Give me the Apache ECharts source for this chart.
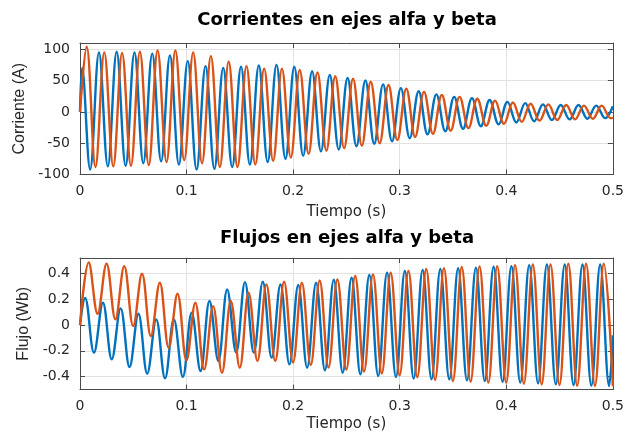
<!DOCTYPE html>
<html><head><meta charset="utf-8">
<script src="https://cdn.jsdelivr.net/npm/echarts@6/dist/echarts.min.js"></script>
<style>html,body{margin:0;padding:0;background:#fff}#c{width:627px;height:433px}</style>
</head><body><div id="c"></div>
<script>
// ---- Data (extrema of each waveform) ----
const title1 = 'Corrientes en ejes alfa y beta';
const title2 = 'Flujos en ejes alfa y beta';
const xName = 'Tiempo (s)';
const yName1 = 'Corriente (A)';
const yName2 = 'Flujo (Wb)';
const xTickValues = [0, 0.1, 0.2, 0.3, 0.4, 0.5];

// Current, alpha (blue)
const iAlphaT = [0, 0.002, 0.0095, 0.0178, 0.0261, 0.0344, 0.0428, 0.0511, 0.0594, 0.0678, 0.0761, 0.0844, 0.0928, 0.1011, 0.1094, 0.1178, 0.1261, 0.1344, 0.1428, 0.1511, 0.1594, 0.1678, 0.1761, 0.1844, 0.1928, 0.2011, 0.2094, 0.2178, 0.2261, 0.2344, 0.2428, 0.2511, 0.2594, 0.2678, 0.2761, 0.2844, 0.2928, 0.3011, 0.3094, 0.3178, 0.3261, 0.3344, 0.3428, 0.3511, 0.3594, 0.3678, 0.3761, 0.3844, 0.3928, 0.4011, 0.4094, 0.4178, 0.4261, 0.4344, 0.4428, 0.4511, 0.4594, 0.4678, 0.4761, 0.4844, 0.4928, 0.5];
const iAlphaV = [0, 70, -92, 95, -87, 96, -86, 95, -82, 93, -79, 90, -84, 81, -92, 73, -91, 70, -88, 72, -84, 74, -80, 75, -75, 72, -70, 65, -63, 59, -60, 54, -55, 50, -51, 44, -47, 38, -42, 33, -36, 28, -31, 24, -27, 22, -23, 19, -20, 16, -17, 14, -15, 12, -13, 11, -12, 11, -11, 10, -10, 9];

// Current, beta (orange)
const iBetaT = [0, 0.0062, 0.0145, 0.0228, 0.0312, 0.0395, 0.0478, 0.0562, 0.0645, 0.0728, 0.0812, 0.0895, 0.0978, 0.1062, 0.1145, 0.1228, 0.1312, 0.1395, 0.1478, 0.1562, 0.1645, 0.1728, 0.1812, 0.1895, 0.1978, 0.2062, 0.2145, 0.2228, 0.2312, 0.2395, 0.2478, 0.2562, 0.2645, 0.2728, 0.2812, 0.2895, 0.2978, 0.3062, 0.3145, 0.3228, 0.3312, 0.3395, 0.3478, 0.3562, 0.3645, 0.3728, 0.3812, 0.3895, 0.3978, 0.4062, 0.4145, 0.4228, 0.4312, 0.4395, 0.4478, 0.4562, 0.4645, 0.4728, 0.4812, 0.4895, 0.4978, 0.5];
const iBetaV = [0, 104, -88, 95, -87, 94, -86, 96, -85, 98, -80, 98, -77, 95, -82, 89, -88, 80, -88, 73, -84, 69, -78, 69, -73, 67, -67, 63, -62, 57, -58, 53, -54, 48, -50, 43, -45, 37, -40, 32, -35, 27, -30, 24, -26, 21, -22, 18, -19, 15, -16, 13, -14, 12, -13, 11, -12, 10, -11, 10, -10, -9];

// Flux, alpha (blue)
const psiAlphaT = [0, 0.0048, 0.0131, 0.0215, 0.0298, 0.0381, 0.0465, 0.0548, 0.0631, 0.0715, 0.0798, 0.0881, 0.0965, 0.1048, 0.1131, 0.1215, 0.1298, 0.1381, 0.1465, 0.1548, 0.1631, 0.1715, 0.1798, 0.1881, 0.1965, 0.2048, 0.2131, 0.2215, 0.2298, 0.2381, 0.2465, 0.2548, 0.2631, 0.2715, 0.2798, 0.2881, 0.2965, 0.3048, 0.3131, 0.3215, 0.3298, 0.3381, 0.3465, 0.3548, 0.3631, 0.3715, 0.3798, 0.3881, 0.3965, 0.4048, 0.4131, 0.4215, 0.4298, 0.4381, 0.4465, 0.4548, 0.4631, 0.4715, 0.4798, 0.4881, 0.4965, 0.5];
const psiAlphaV = [0, 0.21, -0.214, 0.173, -0.266, 0.129, -0.326, 0.088, -0.377, 0.044, -0.413, 0.044, -0.403, 0.096, -0.357, 0.186, -0.279, 0.276, -0.214, 0.333, -0.214, 0.336, -0.253, 0.315, -0.305, 0.31, -0.331, 0.328, -0.351, 0.351, -0.37, 0.367, -0.382, 0.388, -0.395, 0.406, -0.403, 0.419, -0.415, 0.428, -0.42, 0.436, -0.421, 0.44, -0.429, 0.444, -0.434, 0.452, -0.44, 0.457, -0.447, 0.465, -0.452, 0.47, -0.46, 0.47, -0.465, 0.47, -0.47, 0.47, -0.473, -0.08];

// Flux, beta (orange)
const psiBetaT = [0, 0.0082, 0.0165, 0.0249, 0.0332, 0.0415, 0.0499, 0.0582, 0.0665, 0.0749, 0.0832, 0.0915, 0.0999, 0.1082, 0.1165, 0.1249, 0.1332, 0.1415, 0.1499, 0.1582, 0.1665, 0.1749, 0.1832, 0.1915, 0.1999, 0.2082, 0.2165, 0.2249, 0.2332, 0.2415, 0.2499, 0.2582, 0.2665, 0.2749, 0.2832, 0.2915, 0.2999, 0.3082, 0.3165, 0.3249, 0.3332, 0.3415, 0.3499, 0.3582, 0.3665, 0.3749, 0.3832, 0.3915, 0.3999, 0.4082, 0.4165, 0.4249, 0.4332, 0.4415, 0.4499, 0.4582, 0.4665, 0.4749, 0.4832, 0.4915, 0.5];
const psiBetaV = [0, 0.485, 0.088, 0.475, 0.044, 0.457, -0.008, 0.398, -0.085, 0.328, -0.176, 0.243, -0.274, 0.173, -0.344, 0.147, -0.37, 0.186, -0.331, 0.251, -0.279, 0.315, -0.279, 0.336, -0.29, 0.328, -0.31, 0.346, -0.33, 0.354, -0.345, 0.38, -0.36, 0.393, -0.375, 0.406, -0.39, 0.419, -0.405, 0.435, -0.425, 0.44, -0.434, 0.45, -0.439, 0.455, -0.447, 0.457, -0.447, 0.465, -0.455, 0.47, -0.46, 0.47, -0.465, 0.475, -0.47, 0.475, -0.473, 0.475, -0.475];

const yTicks1 = [-100, -50, 0, 50, 100];
const yTicks2 = [-0.4, -0.2, 0, 0.2, 0.4];
const yRange1 = [-100, 110];
const yRange2 = [-0.5, 0.52];

// ---- Chart ----
const BLUE = '#0072BD', ORANGE = '#D95319';
const AX = '#4a4a4a', GRID = '#e2e2e2', TXT = '#262626';
const tickFont = { fontFamily: 'DejaVu Sans', fontSize: 14, color: TXT };

function pairs(t, v) { return t.map((x, i) => [x, v[i]]); }
function onTick(list) {
  return v => list.some(k => Math.abs(k - v) < 1e-9);
}

function xAxes(gi) {
  const base = {
    type: 'value', gridIndex: gi, min: xTickValues[0], max: xTickValues[xTickValues.length - 1], interval: 0.1,
    axisLine: { show: true, onZero: false, lineStyle: { color: AX, width: 1 } },
    axisTick: { show: true, inside: true, length: 5, lineStyle: { color: AX } }
  };
  return [
    Object.assign({}, base, {
      position: 'bottom',
      axisLabel: Object.assign({ margin: 10, formatter: v => String(v) }, tickFont),
      splitLine: { show: true, lineStyle: { color: GRID, width: 1 } },
      name: xName, nameLocation: 'middle', nameGap: gi === 0 ? 30 : 27,
      nameTextStyle: { fontFamily: 'DejaVu Sans', fontSize: 15, color: TXT }
    }),
    Object.assign({}, base, {
      position: 'top', axisLabel: { show: false }, splitLine: { show: false }
    })
  ];
}
function yAxes(gi, range, ticks, name) {
  const ok = onTick(ticks);
  const base = {
    type: 'value', gridIndex: gi, min: range[0], max: range[1],
    axisLine: { show: true, onZero: false, lineStyle: { color: AX, width: 1 } },
    axisTick: { show: true, inside: true, length: 5, lineStyle: { color: AX } }
  };
  return [
    Object.assign({}, base, {
      position: 'left',
      axisLabel: Object.assign({ margin: 10, formatter: v => ok(v) ? String(+v.toFixed(4)) : '' }, tickFont),
      splitLine: { show: true, lineStyle: { color: GRID, width: 1 } },
      name: name, nameLocation: 'middle', nameGap: 47,
      nameTextStyle: { fontFamily: 'Liberation Sans', fontSize: 16, color: TXT }
    }),
    Object.assign({}, base, {
      position: 'right', axisLabel: { show: false }, splitLine: { show: false }
    })
  ];
}

const chart = echarts.init(document.getElementById('c'), null, { renderer: 'canvas' });
const lineBase = { type: 'line', showSymbol: false, symbol: 'none', smooth: 0.38, animation: false };

chart.setOption({
  animation: false,
  backgroundColor: '#ffffff',
  grid: [
    { left: 80, right: 14, top: 43, height: 131.5, containLabel: false },
    { left: 80, right: 14, top: 258, height: 131.5, containLabel: false }
  ],
  xAxis: xAxes(0).concat(xAxes(1)),
  yAxis: yAxes(0, yRange1, yTicks1, yName1).concat(yAxes(1, yRange2, yTicks2, yName2)),
  graphic: [
    { type: 'text', x: 347, y: 20, style: { text: title1, font: 'bold 18px "DejaVu Sans"', fill: '#000', align: 'center', verticalAlign: 'middle' } },
    { type: 'text', x: 347, y: 238, style: { text: title2, font: 'bold 18px "DejaVu Sans"', fill: '#000', align: 'center', verticalAlign: 'middle' } }
  ],
  series: [
    Object.assign({}, lineBase, { name: 'i_alpha', xAxisIndex: 0, yAxisIndex: 0, data: pairs(iAlphaT, iAlphaV), lineStyle: { width: 2.4, color: BLUE }, itemStyle: { color: BLUE } }),
    Object.assign({}, lineBase, { name: 'i_beta', xAxisIndex: 0, yAxisIndex: 0, data: pairs(iBetaT, iBetaV), lineStyle: { width: 2.4, color: ORANGE }, itemStyle: { color: ORANGE } }),
    Object.assign({}, lineBase, { name: 'psi_alpha', xAxisIndex: 2, yAxisIndex: 2, data: pairs(psiAlphaT, psiAlphaV), lineStyle: { width: 2.4, color: BLUE }, itemStyle: { color: BLUE } }),
    Object.assign({}, lineBase, { name: 'psi_beta', xAxisIndex: 2, yAxisIndex: 2, data: pairs(psiBetaT, psiBetaV), lineStyle: { width: 2.4, color: ORANGE }, itemStyle: { color: ORANGE } })
  ]
});
</script>
</body></html>
